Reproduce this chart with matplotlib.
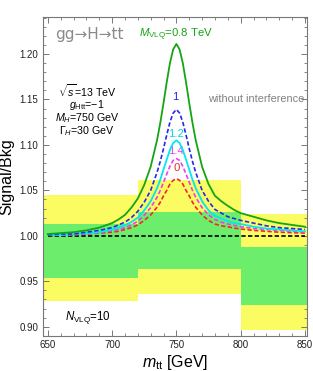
import numpy as np
import matplotlib
matplotlib.use("Agg")
import matplotlib.pyplot as plt
from matplotlib.ticker import MultipleLocator, FormatStrFormatter

plt.rcParams["font.family"] = ["Liberation Sans", "DejaVu Sans"]
plt.rcParams["mathtext.fontset"] = "custom"
plt.rcParams["mathtext.rm"] = "Liberation Sans"
plt.rcParams["mathtext.it"] = "Liberation Sans:italic"

# ==================== data ====================
mtt = [650, 660, 670, 680, 690, 700, 705, 710, 715,
       720, 725, 730, 735, 737.5, 740, 742.5, 745, 747.5,
       750,
       752.5, 755, 757.5, 760, 762.5, 765,
       770,
       775, 780, 785, 790, 795, 800, 810, 820, 830, 840, 850]

r_m08 = [1.002, 1.003, 1.004, 1.006, 1.009, 1.014, 1.018, 1.023, 1.031,
         1.041, 1.056, 1.076, 1.1055, 1.1245, 1.146, 1.169, 1.190, 1.205,
         1.211,
         1.205, 1.190, 1.169, 1.146, 1.1245, 1.1055,
         1.076,
         1.057, 1.044, 1.038, 1.033, 1.0285, 1.025, 1.021, 1.017, 1.014, 1.012, 1.010]
r_m10 = [1.001, 1.002, 1.002, 1.004, 1.006, 1.009, 1.012, 1.015, 1.020,
         1.027, 1.037, 1.050, 1.070, 1.082, 1.096, 1.111, 1.125, 1.135,
         1.139,
         1.135, 1.125, 1.111, 1.096, 1.082, 1.070,
         1.050,
         1.038, 1.029, 1.025, 1.021, 1.019, 1.017, 1.014, 1.011, 1.009, 1.008, 1.007]
r_m12 = [1.001, 1.001, 1.002, 1.003, 1.004, 1.007, 1.009, 1.012, 1.015,
         1.020, 1.028, 1.038, 1.0525, 1.062, 1.073, 1.084, 1.0945, 1.102,
         1.105,
         1.102, 1.0945, 1.084, 1.073, 1.062, 1.0525,
         1.038,
         1.028, 1.022, 1.019, 1.016, 1.014, 1.013, 1.010, 1.008, 1.007, 1.006, 1.005]
r_m14 = [1.001, 1.001, 1.0015, 1.002, 1.0035, 1.006, 1.007, 1.009, 1.012,
         1.016, 1.0225, 1.031, 1.0425, 1.050, 1.059, 1.068, 1.0765, 1.083,
         1.085,
         1.083, 1.0765, 1.068, 1.059, 1.050, 1.0425,
         1.031,
         1.023, 1.018, 1.015, 1.013, 1.0115, 1.010, 1.008, 1.007, 1.006, 1.005, 1.004]
r_m0 = [1.001, 1.001, 1.001, 1.002, 1.003, 1.004, 1.005, 1.007, 1.009,
        1.012, 1.017, 1.023, 1.0315, 1.037, 1.044, 1.050, 1.057, 1.061,
        1.063,
        1.061, 1.057, 1.050, 1.044, 1.037, 1.0315,
        1.023,
        1.017, 1.013, 1.011, 1.010, 1.0085, 1.0075, 1.006, 1.005, 1.004, 1.0035, 1.003]

no_interf = [1.0, 1.0]
no_interf_m = [650, 850]

# experimental bands per bin
bin_lo = [640, 720, 800]
bin_hi = [720, 800, 860]
yellow_lo = [0.928, 0.936, 0.896]
yellow_hi = [1.045, 1.061, 1.024]
green_lo = [0.954, 0.964, 0.924]
green_hi = [1.013, 1.026, 0.988]

# ==================== figure ====================
fig = plt.figure(figsize=(3.13, 3.71), dpi=100)
ax = fig.add_axes([0.1364, 0.0943, 0.846, 0.8599])

widths = np.array(bin_hi) - np.array(bin_lo)
ax.bar(bin_lo, np.array(yellow_hi) - np.array(yellow_lo), width=widths,
       bottom=yellow_lo, align="edge", color="#fbfb62", linewidth=0, zorder=1)
ax.bar(bin_lo, np.array(green_hi) - np.array(green_lo), width=widths,
       bottom=green_lo, align="edge", color="#6cee6c", linewidth=0, zorder=2)

dash = (0, (2.6, 1.4))
ax.plot(no_interf_m, no_interf, color="black", lw=1.2, ls=dash, zorder=3)
ax.plot(mtt, r_m0, color="#f02828", lw=1.2, ls=dash, zorder=4)
ax.plot(mtt, r_m14, color="#f03cf0", lw=1.2, ls=dash, zorder=4)
ax.plot(mtt, r_m12, color="#00e8f2", lw=1.3, zorder=4)
ax.plot(mtt, r_m10, color="#2828e6", lw=1.2, ls=dash, zorder=4)
ax.plot(mtt, r_m08, color="#14a514", lw=1.3, zorder=4)

ax.set_xlim(646, 852)
ax.set_ylim(0.8898, 1.2407)

ax.xaxis.set_major_locator(MultipleLocator(50))
ax.xaxis.set_minor_locator(MultipleLocator(10))
ax.yaxis.set_major_locator(MultipleLocator(0.05))
ax.yaxis.set_minor_locator(MultipleLocator(0.01))
ax.yaxis.set_major_formatter(FormatStrFormatter("%.2f"))
ax.tick_params(which="both", direction="in", top=True, right=True,
               color="#777777", labelsize=7, labelcolor="#222222", pad=3)
ax.tick_params(which="major", length=4, width=0.7)
ax.tick_params(which="minor", length=2, width=0.6)
for sp in ax.spines.values():
    sp.set_color("#777777")
    sp.set_linewidth(0.8)

ax.set_xlabel(r"$m_{\mathrm{tt}}$ [GeV]", fontsize=11.5, labelpad=2)
ax.set_ylabel("Signal/Bkg", fontsize=11.5, labelpad=4)

# ==================== annotations ====================
ax.text(655.6, 1.2209, "gg→H→tt", fontsize=11, color="#8a8a8a",
        family=["DejaVu Sans"], ha="left", va="center")
ax.text(749.7, 1.2215, r"$M_{\mathrm{VLQ}}$=0.8 TeV", fontsize=8.2,
        color="#14a514", ha="center", va="center")
ax.text(749.5, 1.1525, "1", fontsize=8.2, color="#2828e6", ha="center", va="center")
ax.text(750, 1.1125, "1.2", fontsize=8.2, color="#00d8e8", ha="center", va="center")
ax.text(749.5, 1.093, "1.4", fontsize=8.2, color="#f03cf0", ha="center", va="center")
ax.text(750, 1.0745, "0", fontsize=8.2, color="#f02828", ha="center", va="center")

info = [r"$\sqrt{s}$=13 TeV", r"$g_{\mathrm{Htt}}$=−1",
        r"$M_H$=750 GeV", r"$\Gamma_H$=30 GeV"]
info_y = [1.1598, 1.1443, 1.1296, 1.1150]
for t, yy in zip(info, info_y):
    ax.text(680.5, yy, t, fontsize=7.7, ha="center", va="center")

ax.text(812, 1.1505, "without interference", fontsize=7.8, color="#808080",
        ha="center", va="center")
ax.text(663.3, 0.9107, r"$N_{\mathrm{VLQ}}$=10", fontsize=8.3,
        ha="left", va="center")

fig.savefig("out.png", dpi=100)
